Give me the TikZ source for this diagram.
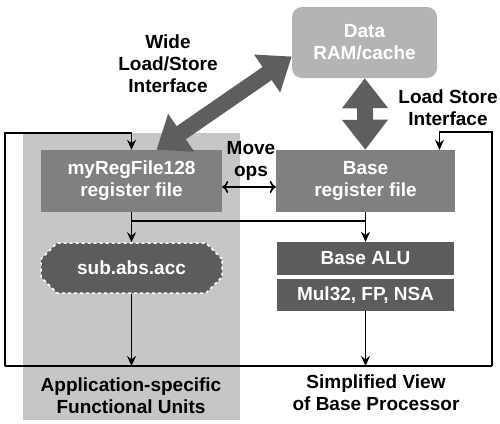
\documentclass[tikz,border=0pt]{standalone}
\usepackage{fontspec}
\setmainfont{Liberation Sans}
\usepackage{tikz}
\usetikzlibrary{shapes.misc, arrows, arrows.meta}
\definecolor{ramgray}{HTML}{B4B4B4}
\definecolor{rfgray}{HTML}{808080}
\definecolor{fugray}{HTML}{5C5C5C}
\definecolor{bggray}{HTML}{C6C6C6}
\definecolor{busgray}{HTML}{5E5E5E}
\tikzstyle{arrow} = [line width=1.6pt,->,>={Stealth[length=10pt,width=9pt]}]
\tikzstyle{lbl} = [font=\bfseries\fontsize{19}{22}\selectfont, align=center, inner sep=0pt]
\tikzstyle{box} = [lbl, text=white, minimum width=181pt]
\tikzstyle{bus} = [line width=16pt, busgray, {Triangle[length=30pt,width=44pt]}-{Triangle[length=30pt,width=44pt]}]

\begin{document}
\begin{tikzpicture}[x=1pt,y=-1pt]
\useasboundingbox (0,0) rectangle (500,423);
\fill[bggray] (23,133) rectangle (240,420);

\node[box, fill=ramgray, rounded corners=10pt, minimum width=145pt, minimum height=71pt] (ram) at (364.5,42.5) {Data\\RAM/cache};
\node[box, fill=rfgray, minimum height=62pt] (rf128) at (131.5,181) {myRegFile128\\register file};
\node[box, fill=rfgray, minimum width=179pt, minimum height=62pt] (baserf) at (365.5,181) {Base\\register file};
\node[box, chamfered rectangle, chamfered rectangle xsep=9pt, chamfered rectangle ysep=9pt, fill=fugray, draw=white, dashed, line width=1.5pt, minimum height=50pt] (sub) at (131.5,268) {sub.abs.acc};
\node[box, fill=fugray, minimum width=177pt, minimum height=33pt] (alu) at (365.5,258.5) {Base ALU};
\node[box, fill=fugray, minimum width=177pt, minimum height=32pt] (mul) at (365.5,295) {Mul32, FP, NSA};

\coordinate (bl) at (5,366);
\coordinate (br) at (492,366);
\coordinate (tl) at (5,133);
\coordinate (tr) at (492,132);
\draw[line width=1.6pt] (bl) -- (br);
\draw[arrow] (bl) -- (tl) -| (rf128.north);
\draw[arrow] (br) -- (tr) -| ([xshift=74pt]baserf.north);
\draw[arrow] (rf128) -- (sub);
\draw[arrow] (baserf) -- (alu);
\draw[line width=1.6pt] ([yshift=-9pt]rf128.south) -- ([yshift=-9pt]baserf.south);
\draw[arrow] (sub) -- (sub |- bl);
\draw[arrow] (mul) -- (mul |- bl);
\draw[line width=1.6pt,<->,>={To[length=6pt,width=12pt]}] ([yshift=-6pt]rf128.east) -- ([yshift=-6pt]baserf.west);

\draw[bus] ([yshift=-14pt]ram.west) -- ([xshift=25pt]rf128.north);
\draw[bus] (ram) -- (baserf);

\node[lbl] (wide) at (168,64) {Wide\\Load/Store\\Interface};
\node[lbl] (lsi) at (448,108) {Load Store\\Interface};
\node[lbl] (move) at (251,161) {Move\\ops};
\node[lbl] (asfu) at (131,396) {Application-specific\\Functional Units};
\node[lbl] (view) at (376,393) {Simplified View\\of Base Processor};
\end{tikzpicture}
\end{document}
